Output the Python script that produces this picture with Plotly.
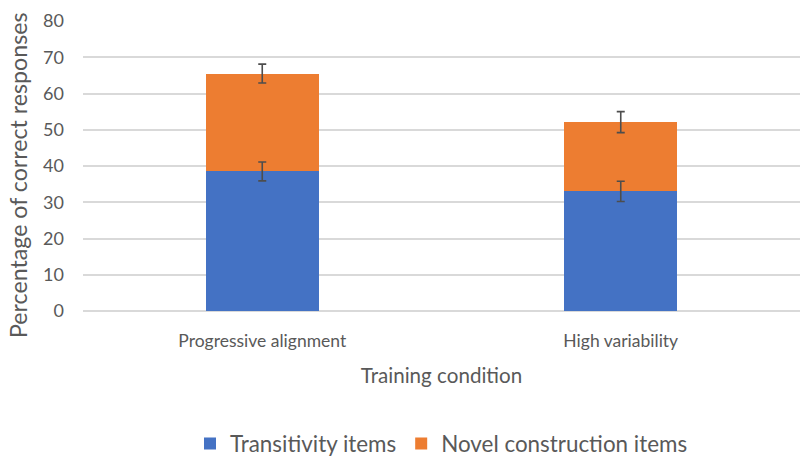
import plotly.graph_objects as go

categories = ["Progressive alignment", "High variability"]
transitivity = [38.5, 33.0]
transitivity_err = [2.6, 2.8]
novel = [27.0, 19.1]
novel_err = [2.6, 2.9]

font = "Lato, Carlito, Calibri, sans-serif"
grey = "#595959"
err_color = "#4d4d4d"

stack_top = [t + n for t, n in zip(transitivity, novel)]

fig = go.Figure()
fig.add_trace(go.Bar(
    name="Transitivity items", x=categories, y=transitivity,
    marker=dict(color="#4472C4", line=dict(width=0)),
))
fig.add_trace(go.Bar(
    name="Novel construction items", x=categories, y=novel,
    marker=dict(color="#ED7D31", line=dict(width=0)),
))
# error bars drawn on top of both stacked segments
fig.add_trace(go.Scatter(
    x=categories, y=transitivity, mode="markers", marker=dict(size=0.1, color="rgba(0,0,0,0)"),
    error_y=dict(type="data", array=transitivity_err, color=err_color, thickness=1.6, width=4),
    showlegend=False, hoverinfo="skip",
))
fig.add_trace(go.Scatter(
    x=categories, y=stack_top, mode="markers", marker=dict(size=0.1, color="rgba(0,0,0,0)"),
    error_y=dict(type="data", array=novel_err, color=err_color, thickness=1.6, width=4),
    showlegend=False, hoverinfo="skip",
))

fig.add_annotation(
    text="Percentage of correct responses", textangle=-90,
    xref="paper", yref="paper", x=-0.0907, y=0.469,
    xanchor="center", yanchor="middle", showarrow=False,
    font=dict(size=23.2, color=grey, family=font),
)

fig.update_layout(
    barmode="stack",
    bargap=0.686,
    width=800, height=466,
    margin=dict(l=83, r=0, t=21, b=155),
    paper_bgcolor="white", plot_bgcolor="white",
    font=dict(family=font, color=grey),
    legend=dict(orientation="h", x=0.5, xanchor="center", y=-0.4586, yanchor="middle",
                font=dict(size=22.4, color=grey), traceorder="normal",
                itemwidth=30, tracegroupgap=0),
    xaxis=dict(
        title=dict(text="Training condition", font=dict(size=20.6, color=grey), standoff=19),
        tickfont=dict(size=17.5, color=grey),
        ticklabelstandoff=17,
        showline=False, showgrid=False, automargin=False,
    ),
    yaxis=dict(
        range=[0, 80], dtick=10,
        tickfont=dict(size=18, color=grey),
        ticklabelstandoff=18,
        showgrid=True, gridcolor="#d9d9d9", gridwidth=1.5,
        zeroline=True, zerolinecolor="#d9d9d9", zerolinewidth=1.5,
        showline=False, automargin=False,
    ),
)

fig.write_html(
    "out.html",
    config={"displayModeBar": False},
    post_script="document.body.style.margin='0';document.body.style.overflow='hidden';",
)
